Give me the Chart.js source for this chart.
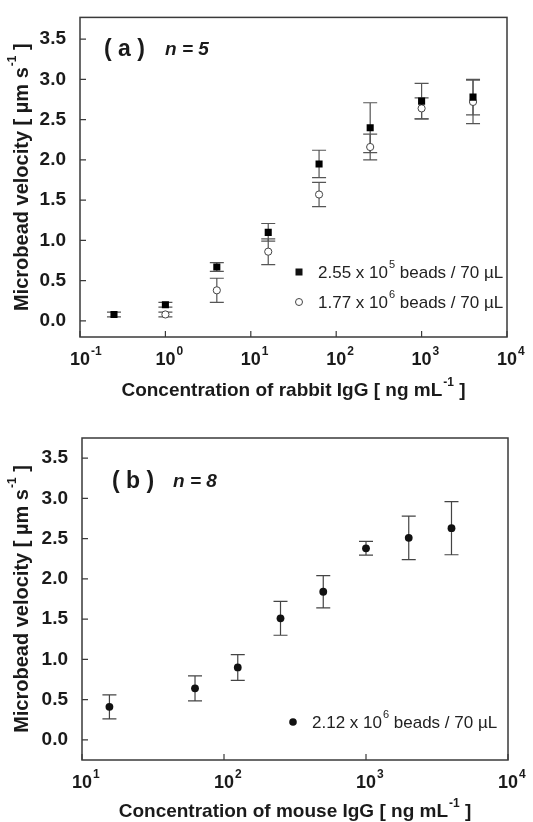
<!DOCTYPE html>
<html>
<head>
<meta charset="utf-8">
<script src="https://cdn.jsdelivr.net/npm/chart.js@4.4.0/dist/chart.umd.min.js"></script>
<style>
body { margin: 0; background: #fff; width: 533px; height: 822px; overflow: hidden; }
canvas { position: absolute; left: 0; }
#chartA { top: 0; }
#chartB { top: 411px; }
</style>
</head>
<body>
<canvas id="chartA" width="533" height="411"></canvas>
<canvas id="chartB" width="533" height="411"></canvas>
<script>
// panel (a): rabbit IgG
var rabbitConc = [0.25, 1, 4, 16, 63, 250, 1000, 4000];
var vel255 = [0.08, 0.20, 0.67, 1.10, 1.95, 2.40, 2.73, 2.78];
var err255 = [0.03, 0.03, 0.055, 0.11, 0.17, 0.31, 0.22, 0.22];
var rabbitConc177 = [1, 4, 16, 63, 250, 1000, 4000];
var vel177 = [0.08, 0.38, 0.86, 1.57, 2.16, 2.64, 2.72];
var err177 = [0.03, 0.15, 0.16, 0.15, 0.16, 0.13, 0.27];

// panel (b): mouse IgG
var mouseConc = [15.6, 62.5, 125, 250, 500, 1000, 2000, 4000];
var vel212 = [0.41, 0.64, 0.90, 1.51, 1.84, 2.38, 2.51, 2.63];
var err212 = [0.15, 0.155, 0.16, 0.21, 0.20, 0.085, 0.27, 0.33];

// axes
var yTicks = [0, 0.5, 1.0, 1.5, 2.0, 2.5, 3.0, 3.5];
var xExpA = [-1, 0, 1, 2, 3, 4];
var xExpB = [1, 2, 3, 4];

var FONT = '"Liberation Sans", Arial, sans-serif';

function toPoints(xs, ys) {
    return xs.map(function (x, i) { return { x: x, y: ys[i] }; });
}

// draw base text followed by a small raised part, returns end x
function supText(ctx, x, y, base, sup, size, weight, after, supSize) {
    supSize = supSize || Math.round(size * 0.62);
    ctx.font = weight + ' ' + size + 'px ' + FONT;
    ctx.fillText(base, x, y);
    x += ctx.measureText(base).width;
    ctx.font = weight + ' ' + supSize + 'px ' + FONT;
    ctx.fillText(sup, x + 1, y - size * 0.45);
    x += ctx.measureText(sup).width + 1;
    if (after) {
        ctx.font = weight + ' ' + size + 'px ' + FONT;
        ctx.fillText(after, x, y);
        x += ctx.measureText(after).width;
    }
    return x;
}

function supWidth(ctx, base, sup, size, weight, after) {
    ctx.font = weight + ' ' + size + 'px ' + FONT;
    var w = ctx.measureText(base + (after || '')).width;
    ctx.font = weight + ' ' + Math.round(size * 0.62) + 'px ' + FONT;
    return w + ctx.measureText(sup).width + 1;
}

var decor = {
    id: 'decor',
    beforeDatasetsDraw: function (chart) {
        var ctx = chart.ctx;
        var ys = chart.scales.y;
        ctx.save();
        chart.data.datasets.forEach(function (ds, i) {
            var meta = chart.getDatasetMeta(i);
            ctx.strokeStyle = ds.errColor;
            ctx.lineWidth = 1.2;
            meta.data.forEach(function (pt, j) {
                var v = ds.data[j].y, e = ds.errors[j];
                var t = ys.getPixelForValue(v + e), b = ys.getPixelForValue(v - e);
                ctx.beginPath();
                ctx.moveTo(pt.x, t); ctx.lineTo(pt.x, b);
                ctx.moveTo(pt.x - 7, t); ctx.lineTo(pt.x + 7, t);
                ctx.moveTo(pt.x - 7, b); ctx.lineTo(pt.x + 7, b);
                ctx.stroke();
            });
        });
        ctx.restore();
    },
    afterDraw: function (chart, args, o) {
        var ctx = chart.ctx;
        var a = chart.chartArea;
        var xs = chart.scales.x, ys = chart.scales.y;
        ctx.save();
        // frame
        ctx.strokeStyle = '#3a3a3a';
        ctx.lineWidth = 1.5;
        ctx.strokeRect(a.left, a.top, a.right - a.left, a.bottom - a.top);
        // inward ticks
        ctx.lineWidth = 1.2;
        ctx.beginPath();
        yTicks.forEach(function (v) {
            var y = ys.getPixelForValue(v);
            ctx.moveTo(a.left, y); ctx.lineTo(a.left + 6, y);
        });
        o.exps.forEach(function (e) {
            var x = xs.getPixelForValue(Math.pow(10, e));
            ctx.moveTo(x, a.bottom); ctx.lineTo(x, a.bottom - 6);
        });
        ctx.stroke();

        ctx.fillStyle = '#1a1a1a';
        ctx.textBaseline = 'middle';
        ctx.textAlign = 'left';
        // x tick labels 10^n
        o.exps.forEach(function (e) {
            var x = xs.getPixelForValue(Math.pow(10, e));
            ctx.font = 'bold 18px ' + FONT;
            var w = ctx.measureText('10').width;
            supText(ctx, x - w / 2, a.bottom + 23, '10', String(e), 18, 'bold', '', 12);
        });
        // x title
        var xw = supWidth(ctx, o.xTitle, '-1', 19, 'bold', ' ]');
        supText(ctx, (a.left + a.right) / 2 - xw / 2, o.xTitleY, o.xTitle, '-1', 19, 'bold', ' ]');
        // y title
        ctx.save();
        ctx.translate(22, (a.top + a.bottom) / 2);
        ctx.rotate(-Math.PI / 2);
        var y1 = 'Microbead velocity [ \u00b5m s';
        var yw = supWidth(ctx, y1, '-1', 20, 'bold', ' ]');
        supText(ctx, -yw / 2, 0, y1, '-1', 20, 'bold', ' ]');
        ctx.restore();
        // panel label
        ctx.font = 'bold 23px ' + FONT;
        ctx.fillText(o.panel, o.panelX, o.panelY);
        ctx.font = 'italic bold 19px ' + FONT;
        ctx.fillText(o.nText, o.panelX + 61, o.panelY);
        // legend
        o.legend.forEach(function (it) {
            ctx.fillStyle = '#111';
            ctx.strokeStyle = '#444';
            ctx.lineWidth = 1;
            if (it.mark === 'square') {
                ctx.fillRect(it.x - 3.5, it.y - 3.5, 7, 7);
            } else if (it.mark === 'open') {
                ctx.fillStyle = '#fff';
                ctx.beginPath(); ctx.arc(it.x, it.y, 3.5, 0, Math.PI * 2); ctx.fill(); ctx.stroke();
            } else {
                ctx.beginPath(); ctx.arc(it.x, it.y, 3.8, 0, Math.PI * 2); ctx.fill();
            }
            ctx.fillStyle = '#222';
            supText(ctx, it.x + 19, it.y + 1, it.pre, it.sup, 17, 'normal', it.post, 11);
        });
        ctx.restore();
    }
};

function makeChart(id, datasets, xMin, xMax, yMin, yMax, pad, xHeight, dec) {
    return new Chart(document.getElementById(id).getContext('2d'), {
        type: 'scatter',
        data: { datasets: datasets },
        options: {
            responsive: false,
            animation: false,
            layout: { padding: pad },
            plugins: { legend: { display: false }, tooltip: { enabled: false }, decor: dec },
            scales: {
                x: {
                    type: 'logarithmic', min: xMin, max: xMax,
                    grid: { display: false }, border: { display: false },
                    ticks: { display: false },
                    afterFit: function (s) { s.height = xHeight; }
                },
                y: {
                    min: yMin, max: yMax,
                    grid: { display: false }, border: { display: false },
                    afterBuildTicks: function (s) { s.ticks = yTicks.map(function (v) { return { value: v }; }); },
                    ticks: {
                        color: '#1a1a1a', padding: 6,
                        font: { family: FONT, size: 19, weight: 'bold' },
                        callback: function (v) { return v.toFixed(1); }
                    },
                    afterFit: function (s) { s.width = pad.yWidth; }
                }
            }
        },
        plugins: [decor]
    });
}

makeChart('chartA', [
    {
        data: toPoints(rabbitConc177, vel177), errors: err177, errColor: '#555',
        pointStyle: 'circle', pointRadius: 3.6, borderWidth: 1,
        borderColor: '#444', backgroundColor: '#fff', order: 2
    },
    {
        data: toPoints(rabbitConc, vel255), errors: err255, errColor: '#555',
        pointStyle: 'rect', pointRadius: 5, borderWidth: 0,
        borderColor: '#000', backgroundColor: '#000', order: 1
    }
], 0.1, 10000, -0.2, 3.77, { left: 0, right: 26, top: 13, bottom: 0, yWidth: 80 }, 74, {
    exps: xExpA, xTitle: 'Concentration of rabbit IgG [ ng mL', xTitleY: 391,
    panel: '( a )', nText: 'n = 5', panelX: 104, panelY: 50,
    legend: [
        { mark: 'square', x: 299, y: 272, pre: '2.55 x 10', sup: '5', post: ' beads / 70 \u00b5L' },
        { mark: 'open', x: 299, y: 302, pre: '1.77 x 10', sup: '6', post: ' beads / 70 \u00b5L' }
    ]
});

makeChart('chartB', [
    {
        data: toPoints(mouseConc, vel212), errors: err212, errColor: '#444',
        pointStyle: 'circle', pointRadius: 3.9, borderWidth: 0,
        borderColor: '#111', backgroundColor: '#111'
    }
], 10, 10000, -0.25, 3.75, { left: 0, right: 25, top: 27, bottom: 0, yWidth: 82 }, 62, {
    exps: xExpB, xTitle: 'Concentration of mouse IgG [ ng mL', xTitleY: 401,
    panel: '( b )', nText: 'n = 8', panelX: 112, panelY: 71,
    legend: [
        { mark: 'dot', x: 293, y: 311, pre: '2.12 x 10', sup: '6', post: ' beads / 70 \u00b5L' }
    ]
});
</script>
</body>
</html>
